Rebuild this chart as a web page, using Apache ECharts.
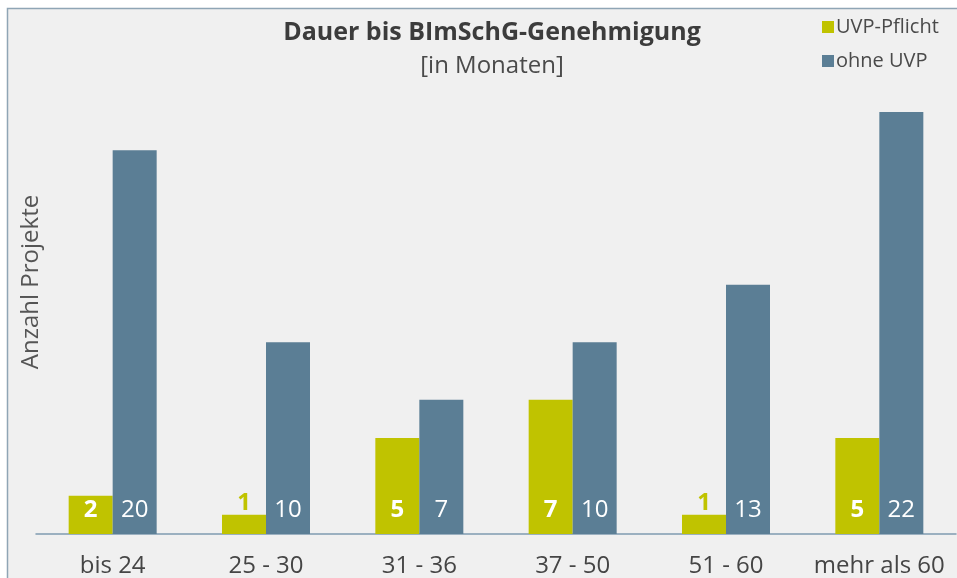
<!DOCTYPE html>
<html>
<head>
<meta charset="utf-8">
<script src="https://cdn.jsdelivr.net/npm/echarts@6/dist/echarts.min.js"></script>
<style>
  html, body { margin: 0; padding: 0; background: #fff; }
  #chart { width: 957px; height: 578px; }
</style>
</head>
<body>
<div id="chart"></div>
<script>
const categories = ['bis 24', '25 - 30', '31 - 36', '37 - 50', '51 - 60', 'mehr als 60'];
const uvpPflicht = [2, 1, 5, 7, 1, 5];
const ohneUvp = [20, 10, 7, 10, 13, 22];

const green = '#c0c300';
const blue = '#5b7e95';
const font = 'Open Sans';

const chart = echarts.init(document.getElementById('chart'));

// small bars get their label above in green
const uvpData = uvpPflicht.map(v => {
  if (v < 2) {
    return {
      value: v,
      label: { position: 'top', distance: 0, color: green }
    };
  }
  return v;
});

chart.setOption({
  animation: false,
  textStyle: { fontFamily: font },
  graphic: [{
    type: 'rect',
    z: -10,
    shape: { x: 7.5, y: 8.5, width: 960, height: 600 },
    style: { fill: '#f0f0f0', stroke: '#8fa5b5', lineWidth: 1.5 }
  }, {
    type: 'text',
    x: 31,
    y: 282,
    rotation: Math.PI / 2,
    style: {
      text: 'Anzahl Projekte',
      font: '24px "Open Sans"',
      fill: '#555',
      align: 'center',
      verticalAlign: 'middle'
    }
  }],
  title: {
    text: 'Dauer bis BImSchG-Genehmigung',
    subtext: '[in Monaten]',
    left: 487,
    textAlign: 'center',
    top: 15,
    itemGap: 9,
    textStyle: { fontFamily: font, fontSize: 25, fontWeight: 'bold', color: '#3c3c3c' },
    subtextStyle: { fontFamily: font, fontSize: 24, color: '#4a4a4a' }
  },
  legend: {
    orient: 'vertical',
    left: 817,
    top: 12,
    itemWidth: 12,
    itemHeight: 12,
    itemGap: 14,
    icon: 'rect',
    textStyle: { fontFamily: font, fontSize: 20, color: '#4a4a4a', padding: [0, 0, 0, -3] },
    data: ['UVP-Pflicht', 'ohne UVP']
  },
  grid: { left: 36, right: 1, top: 112, bottom: 44 },
  xAxis: {
    type: 'category',
    data: categories,
    axisTick: { show: false },
    axisLine: { lineStyle: { color: '#7f9bb0', width: 1.5 } },
    axisLabel: { interval: 0, fontFamily: font, fontSize: 24, color: '#454545', margin: 20 }
  },
  yAxis: {
    type: 'value',
    min: 0,
    max: 22,
    axisLabel: { show: false },
    axisLine: { show: false },
    axisTick: { show: false },
    splitLine: { show: false }
  },
  series: [
    {
      name: 'UVP-Pflicht',
      type: 'bar',
      data: uvpData,
      barWidth: 44,
      barGap: '0%',
      itemStyle: { color: green },
      label: {
        show: true,
        position: 'insideBottom',
        distance: 12,
        fontFamily: font,
        fontSize: 24,
        fontWeight: 'bold',
        color: '#fff'
      }
    },
    {
      name: 'ohne UVP',
      type: 'bar',
      data: ohneUvp,
      barWidth: 44,
      itemStyle: { color: blue },
      label: {
        show: true,
        position: 'insideBottom',
        distance: 12,
        fontFamily: font,
        fontSize: 24,
        color: '#fff'
      }
    }
  ]
});
</script>
</body>
</html>
